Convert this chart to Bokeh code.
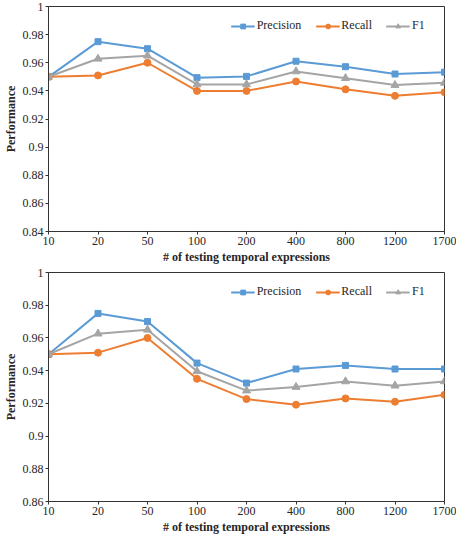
from bokeh.plotting import figure
from bokeh.layouts import column
from bokeh.models import Range1d, FixedTicker, CustomJSTickFormatter, Legend, LegendItem
from bokeh.embed import file_html
from bokeh.resources import INLINE

categories = ["10", "20", "50", "100", "200", "400", "800", "1200", "1700"]

top_precision = [0.950, 0.975, 0.970, 0.9494, 0.9503, 0.9611, 0.9572, 0.9520, 0.9533]
top_recall = [0.950, 0.951, 0.960, 0.940, 0.940, 0.9467, 0.9411, 0.9365, 0.9390]
top_f1 = [0.950, 0.9628, 0.965, 0.9446, 0.9446, 0.9538, 0.9490, 0.9441, 0.9457]

bottom_precision = [0.950, 0.975, 0.970, 0.9446, 0.9324, 0.9410, 0.9432, 0.9410, 0.9410]
bottom_recall = [0.950, 0.951, 0.960, 0.935, 0.9226, 0.9192, 0.9230, 0.9210, 0.9252]
bottom_f1 = [0.950, 0.9626, 0.965, 0.9396, 0.9278, 0.9300, 0.9334, 0.9308, 0.9334]

top_yticks = [0.84, 0.86, 0.88, 0.90, 0.92, 0.94, 0.96, 0.98, 1.0]
bottom_yticks = [0.86, 0.88, 0.90, 0.92, 0.94, 0.96, 0.98, 1.0]

series_names = ["Precision", "Recall", "F1"]
colors = ["#5B9BD5", "#ED7D31", "#A5A5A5"]
markers = ["square", "circle", "triangle"]
marker_sizes = [6, 7, 8]

FONT = "Liberation Serif"
TEXT = "#262626"


def make_chart(series, yticks, height):
    xs = list(range(len(categories)))
    p = figure(width=456, height=height, output_backend="svg", toolbar_location=None,
               x_range=Range1d(xs[0], xs[-1]), y_range=Range1d(yticks[0], yticks[-1]),
               min_border_top=6, min_border_right=12, min_border_left=0, min_border_bottom=0)
    p.xgrid.visible = False
    p.ygrid.visible = False
    p.outline_line_color = "#333333"
    p.outline_line_width = 1
    p.background_fill_color = "white"
    p.border_fill_color = "white"

    items = []
    for name, vals, c, m, s in zip(series_names, series, colors, markers, marker_sizes):
        lr = p.line(xs, vals, line_color=c, line_width=2)
        sr = p.scatter(xs, vals, marker=m, size=s, fill_color=c, line_color=c)
        items.append(LegendItem(label=name, renderers=[lr, sr]))

    legend = Legend(items=items, orientation="horizontal", location="top_right",
                    background_fill_alpha=0, border_line_alpha=0,
                    label_text_font=FONT, label_text_font_size="12px",
                    label_text_color=TEXT, glyph_width=24, glyph_height=12,
                    label_standoff=2, spacing=14, padding=2, margin=10,
                    label_height=12)
    p.add_layout(legend)

    p.xaxis.ticker = FixedTicker(ticks=xs)
    p.xaxis.major_label_overrides = {i: lab for i, lab in enumerate(categories)}
    p.yaxis.ticker = FixedTicker(ticks=yticks)
    p.yaxis.formatter = CustomJSTickFormatter(code="return String(Number(tick.toFixed(2)))")

    for ax in (p.xaxis[0], p.yaxis[0]):
        ax.axis_line_color = "#333333"
        ax.major_tick_line_color = "#333333"
        ax.minor_tick_line_color = None
        ax.major_tick_out = 3
        ax.major_tick_in = 0
        ax.major_label_text_font = FONT
        ax.major_label_text_font_size = "12px"
        ax.major_label_text_color = TEXT
        ax.major_label_standoff = 2
        ax.axis_label_text_font = FONT
        ax.axis_label_text_font_size = "12px"
        ax.axis_label_text_font_style = "bold"
        ax.axis_label_text_color = TEXT
        ax.axis_label_standoff = 2
    p.xaxis.axis_label = "# of testing temporal expressions"
    p.yaxis.axis_label = "Performance"
    return p


p1 = make_chart([top_precision, top_recall, top_f1], top_yticks, 266)
p2 = make_chart([bottom_precision, bottom_recall, bottom_f1], bottom_yticks, 270)
layout = column(p1, p2, spacing=0)

open("out.html", "w").write(file_html(layout, INLINE))
